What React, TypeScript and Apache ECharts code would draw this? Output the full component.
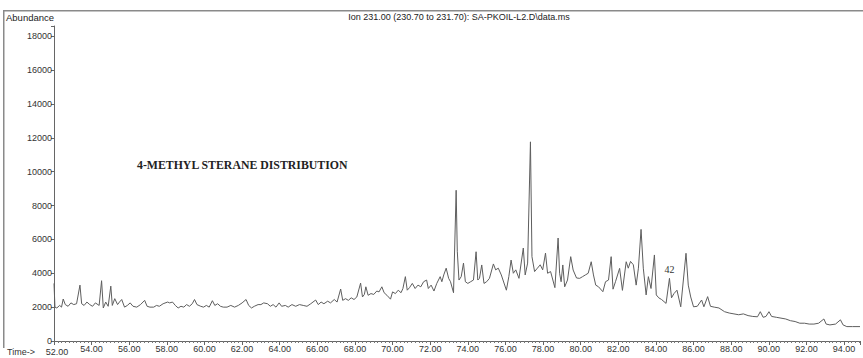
import React, { useEffect, useRef } from "react";
import * as echarts from "echarts";

// Time (min) / abundance pairs
const trace52to60: [number, number][] = [
  [52.0, 3400], [52.05, 2000], [52.15, 1950], [52.3, 2100], [52.4, 2000], [52.49, 2480], [52.6, 2150],
  [52.75, 2050], [52.9, 2250], [53.05, 2150], [53.2, 2200], [53.38, 3300], [53.47, 2200], [53.6, 2100],
  [53.75, 2300], [53.9, 2150], [54.05, 2050], [54.2, 2250], [54.4, 2100], [54.53, 3560], [54.62, 1950],
  [54.75, 2300], [54.88, 2050], [55.02, 3240], [55.1, 2100], [55.23, 2500], [55.38, 2150], [55.48, 2300],
  [55.6, 2450], [55.75, 2000], [55.9, 2100], [56.05, 2250], [56.2, 2050], [56.4, 2000], [56.6, 2150],
  [56.82, 2400], [56.95, 2050], [57.1, 2000], [57.3, 2000], [57.45, 2100], [57.6, 2050], [57.8, 2200],
  [58.04, 2300], [58.15, 2250], [58.3, 2300], [58.45, 2100], [58.6, 1950], [58.75, 2050], [58.9, 2000],
  [59.05, 2150], [59.2, 2050], [59.35, 2200], [59.47, 2450], [59.6, 2150], [59.8, 2050], [59.95, 2000],
];

const trace60to68: [number, number][] = [
  [60.1, 2100], [60.25, 2000], [60.42, 2380], [60.55, 2100], [60.7, 2200], [60.85, 2050], [61.0, 2000],
  [61.2, 2000], [61.4, 2100], [61.6, 2000], [61.8, 2100], [62.0, 2250], [62.21, 2450], [62.35, 2100],
  [62.5, 1950], [62.65, 2050], [62.85, 2150], [63.0, 2150], [63.15, 2250], [63.35, 2200], [63.5, 2050],
  [63.65, 2150], [63.8, 2000], [63.97, 2250], [64.1, 2050], [64.3, 2100], [64.45, 2000], [64.65, 2150],
  [64.85, 2050], [65.05, 2150], [65.25, 2100], [65.45, 2050], [65.65, 2200], [65.91, 2420], [66.05, 2150],
  [66.2, 2300], [66.35, 2200], [66.55, 2350], [66.7, 2250], [66.9, 2450], [67.05, 2300], [67.24, 3070],
  [67.35, 2400], [67.5, 2500], [67.65, 2400], [67.8, 2550], [67.95, 2450], [68.1, 2600],
];

const trace68to73: [number, number][] = [
  [68.3, 3420], [68.4, 2600], [68.5, 2750], [68.58, 3200], [68.7, 2700], [68.85, 2800], [69.0, 2750],
  [69.16, 2950], [69.28, 2900], [69.43, 3200], [69.55, 2850], [69.7, 2700], [69.89, 2470], [70.0, 2900],
  [70.15, 2800], [70.3, 3000], [70.45, 2850], [70.55, 3100], [70.68, 3800], [70.78, 3000], [70.9, 3150],
  [71.05, 3400], [71.2, 3100], [71.35, 3300], [71.5, 3200], [71.65, 3500], [71.81, 3600], [71.9, 3100],
  [72.05, 3300], [72.2, 2950], [72.35, 3400], [72.53, 3800], [72.62, 3500], [72.72, 3900], [72.85, 4300],
  [72.98, 3700], [73.08, 3500], [73.24, 2850],
];

const trace73to79: [number, number][] = [
  [73.38, 8900], [73.44, 5300], [73.53, 3600], [73.65, 3800], [73.77, 4600], [73.87, 3500], [74.0, 3400],
  [74.15, 3500], [74.3, 3600], [74.44, 5270], [74.53, 3600], [74.62, 3700], [74.74, 4490], [74.86, 3400],
  [75.0, 3500], [75.15, 3700], [75.36, 4550], [75.48, 4200], [75.62, 4300], [75.78, 3900], [76.05, 3000],
  [76.18, 3800], [76.3, 4780], [76.42, 4000], [76.55, 4200], [76.72, 3700], [76.95, 5490], [77.05, 3900],
  [77.18, 4600], [77.33, 11760], [77.41, 4980], [77.55, 4100], [77.7, 4300], [77.85, 4500], [77.98, 4200],
  [78.13, 5190], [78.24, 4000], [78.4, 4100], [78.63, 3150],
];

const trace79to84: [number, number][] = [
  [78.8, 6080], [78.88, 4000], [78.96, 3500], [79.05, 4490], [79.15, 3200], [79.3, 3600], [79.47, 4980],
  [79.6, 4190], [79.78, 3720], [79.95, 3700], [80.1, 3800], [80.25, 3900], [80.4, 4000], [80.56, 4680],
  [80.68, 3900], [80.8, 3300], [80.95, 3200], [81.18, 2910], [81.32, 3500], [81.48, 3600], [81.62, 4980],
  [81.72, 3060], [81.85, 3500], [82.07, 4290], [82.22, 2990], [82.42, 4680], [82.53, 4300], [82.65, 4700],
  [82.8, 4500], [82.95, 3300], [83.07, 4300], [83.21, 6590], [83.33, 4300], [83.48, 2720], [83.6, 3800],
  [83.74, 3100], [83.92, 5080],
];

const trace84to95: [number, number][] = [
  [84.02, 2720], [84.15, 2550], [84.3, 2450], [84.54, 2220], [84.72, 3700], [84.83, 2550], [84.96, 2800],
  [85.12, 3000], [85.32, 2020], [85.6, 5180], [85.72, 3300], [85.85, 2600], [86.0, 2020], [86.2, 2050],
  [86.43, 2420], [86.55, 2020], [86.75, 2620], [86.9, 2050], [87.1, 2000], [87.35, 1950], [87.65, 1730],
  [87.9, 1650], [88.15, 1600], [88.4, 1550], [88.65, 1600], [88.9, 1500], [89.15, 1450], [89.4, 1430],
  [89.55, 1730], [89.7, 1400], [89.85, 1450], [90.01, 1730], [90.15, 1450], [90.4, 1400], [90.65, 1350],
  [90.9, 1300], [91.15, 1200], [91.4, 1150], [91.65, 1050], [91.9, 1050], [92.15, 1000], [92.4, 1000],
  [92.65, 1050], [92.93, 1300], [93.05, 1000], [93.25, 950], [93.55, 1000], [93.81, 1250], [93.95, 950],
  [94.15, 850], [94.45, 850], [94.85, 850],
];

const xMin = 52;
const xMax = 94.85;
const yMax = 18600;

const titleText = "Ion 231.00 (230.70 to 231.70): SA-PKOIL-L2.D\\data.ms";
const annotation = "4-METHYL STERANE DISTRIBUTION";
const timePrefix = "Time->";
const firstTimeLabel = "52.00";
const peakLabel = "42";
const peakLabelPoint: [number, number] = [84.72, 4250];

export default function App() {
  const ref = useRef<HTMLDivElement>(null);

  useEffect(() => {
    if (!ref.current) return;
    const chart = echarts.init(ref.current, null, { renderer: "svg" });
    const data = [
      ...trace52to60,
      ...trace60to68,
      ...trace68to73,
      ...trace73to79,
      ...trace79to84,
      ...trace84to95,
    ];
    const sans = "Liberation Sans, Arial, sans-serif";
    const serif = "Liberation Serif, Times New Roman, serif";
    chart.setOption({
      animation: false,
      backgroundColor: "#ffffff",
      grid: { left: 54, right: 0, top: 26, bottom: 17, containLabel: false },
      xAxis: {
        type: "value",
        min: xMin,
        max: xMax,
        interval: 2,
        axisLine: { show: true, lineStyle: { color: "#666", width: 1 } },
        axisTick: { show: true, length: 4, lineStyle: { color: "#666" } },
        minorTick: { show: true, splitNumber: 10, length: 2, lineStyle: { color: "#777" } },
        splitLine: { show: false },
        minorSplitLine: { show: false },
        axisLabel: {
          fontSize: 9,
          fontFamily: sans,
          color: "#333",
          margin: 3,
          formatter: (v: number) => {
            const r = Math.round(v);
            return Math.abs(v - r) < 1e-6 && r % 2 === 0 && r > xMin ? r.toFixed(2) : "";
          },
        },
      },
      yAxis: {
        type: "value",
        min: 0,
        max: yMax,
        interval: 2000,
        axisLine: { show: true, lineStyle: { color: "#666", width: 1 } },
        axisTick: { show: true, length: 3, lineStyle: { color: "#666" } },
        splitLine: { show: false },
        axisLabel: {
          fontSize: 9,
          fontFamily: sans,
          color: "#333",
          margin: 2,
          formatter: (v: number) => (v % 2000 === 0 ? String(v) : ""),
        },
      },
      series: [
        {
          type: "line",
          data,
          showSymbol: false,
          silent: true,
          lineStyle: { color: "#5e5e5e", width: 1 },
        },
      ],
      graphic: [
        { type: "rect", shape: { x: 4, y: 10, width: 859, height: 1.5 }, style: { fill: "#8a8a8a" }, silent: true },
        { type: "rect", shape: { x: 3, y: 10, width: 1.5, height: 338 }, style: { fill: "#8a8a8a" }, silent: true },
        {
          type: "text",
          x: 6,
          y: 17,
          style: { text: "Abundance", font: `9.5px ${sans}`, fill: "#222", textVerticalAlign: "middle" },
        },
        {
          type: "text",
          x: 459,
          y: 17,
          style: { text: titleText, font: `9px ${sans}`, fill: "#222", textAlign: "center", textVerticalAlign: "middle" },
        },
        {
          type: "text",
          x: 137,
          y: 165,
          style: { text: annotation, font: `bold 11.8px ${serif}`, fill: "#222", textVerticalAlign: "middle" },
        },
        {
          type: "text",
          x: 7,
          y: 352,
          style: { text: timePrefix, font: `9px ${sans}`, fill: "#333", textVerticalAlign: "middle" },
        },
        {
          type: "text",
          x: 57,
          y: 352,
          style: { text: firstTimeLabel, font: `9px ${sans}`, fill: "#333", textAlign: "center", textVerticalAlign: "middle" },
        },
      ],
    });
    const p = chart.convertToPixel({ gridIndex: 0 }, peakLabelPoint) as number[];
    chart.setOption({
      graphic: [
        {
          type: "text",
          id: "peak42",
          x: p[0],
          y: p[1],
          style: { text: peakLabel, font: `10px ${serif}`, fill: "#333", textAlign: "center", textVerticalAlign: "middle" },
        },
      ],
    });
    return () => chart.dispose();
  }, []);

  return (
    <div
      ref={ref}
      style={{ position: "absolute", left: 0, top: 0, width: 863, height: 358 }}
    />
  );
}
